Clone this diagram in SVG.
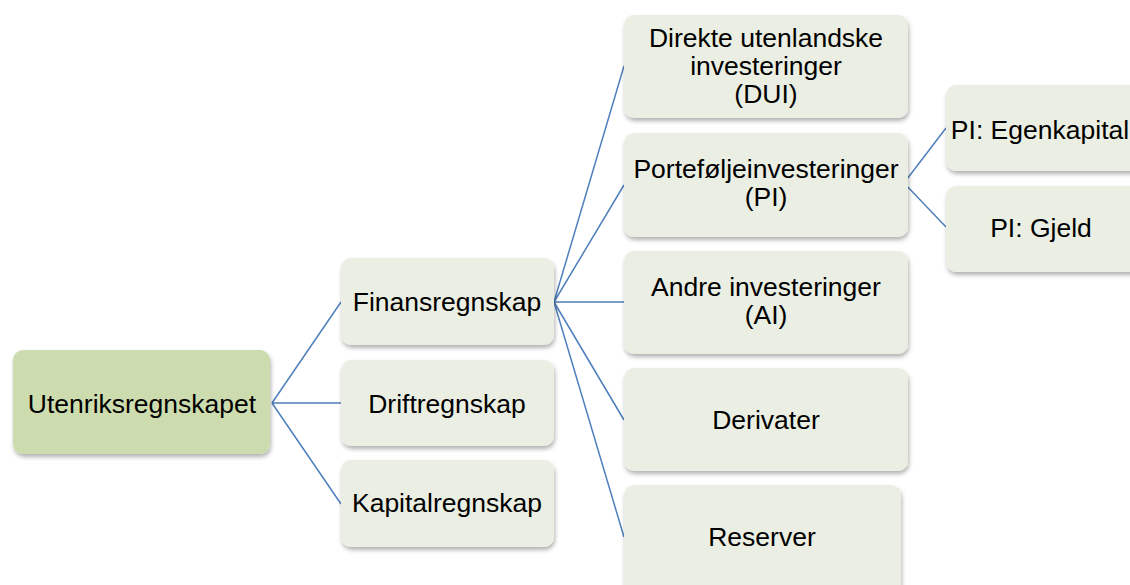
<svg xmlns="http://www.w3.org/2000/svg" width="1130" height="585" viewBox="0 0 1130 585">
<style>
.box{fill:#ebeee2;filter:url(#sh)}
.root{fill:#cddcae;filter:url(#sh)}
text{font-family:"Liberation Sans",Arial,sans-serif;font-size:26.5px;fill:#000;text-anchor:middle}
.c{stroke:#4f7fbc;stroke-width:1.5;fill:none}
</style>
<defs>
<filter id="sh" x="-10%" y="-10%" width="130%" height="140%">
<feDropShadow dx="1" dy="3" stdDeviation="2" flood-color="#000" flood-opacity="0.3"/>
</filter>
</defs>
<rect width="1130" height="585" fill="#fff"/>
<g id="connectors">
<path class="c" d="M272 403 L341 302 M272 403 L341 403 M272 403 L341 504"/>
<path class="c" d="M554 302 L624 66 M554 302 L624 185 M554 302 L624 302 M554 302 L624 420 M554 302 L624 537"/>
<path class="c" d="M904 183 L946 128 M904 183 L946 227"/>
</g>
<g id="n-root"><rect class="root" x="13" y="350" width="257" height="104" rx="10"/><text x="142" y="413">Utenriksregnskapet</text></g>
<g id="n-finans"><rect class="box" x="341" y="258" width="213" height="87" rx="10"/><text x="447" y="311">Finansregnskap</text></g>
<g id="n-drift"><rect class="box" x="341" y="360" width="213" height="86" rx="10"/><text x="447" y="413">Driftregnskap</text></g>
<g id="n-kapital"><rect class="box" x="341" y="460" width="213" height="87" rx="10"/><text x="447" y="512">Kapitalregnskap</text></g>
<g id="n-dui"><rect class="box" x="624" y="15" width="284" height="103" rx="10"/><text x="766" y="47">Direkte utenlandske<tspan x="766" dy="28">investeringer</tspan><tspan x="766" dy="28">(DUI)</tspan></text></g>
<g id="n-pi"><rect class="box" x="624" y="133" width="284" height="104" rx="10"/><text x="766" y="178">Porteføljeinvesteringer<tspan x="766" dy="28">(PI)</tspan></text></g>
<g id="n-ai"><rect class="box" x="624" y="251" width="284" height="103" rx="10"/><text x="766" y="296">Andre investeringer<tspan x="766" dy="28">(AI)</tspan></text></g>
<g id="n-deriv"><rect class="box" x="624" y="368" width="284" height="103" rx="10"/><text x="766" y="429">Derivater</text></g>
<g id="n-reserver"><rect class="box" x="624" y="485" width="277" height="110" rx="10"/><text x="762" y="546">Reserver</text></g>
<g id="n-egen"><rect class="box" x="946" y="85" width="196" height="86" rx="10"/><text x="1040" y="139">PI: Egenkapital</text></g>
<g id="n-gjeld"><rect class="box" x="946" y="186" width="196" height="86" rx="10"/><text x="1041" y="237">PI: Gjeld</text></g>
</svg>
